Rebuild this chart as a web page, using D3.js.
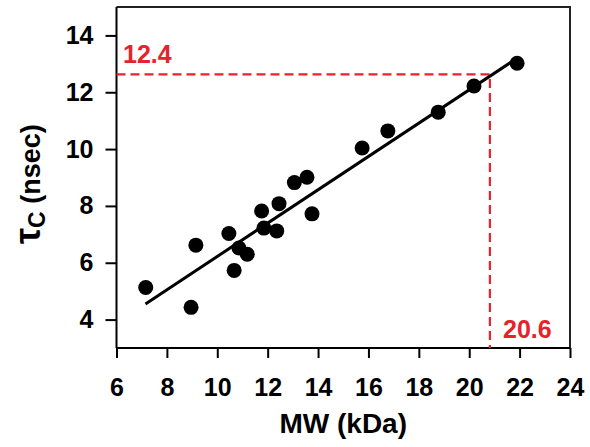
<!DOCTYPE html>
<html>
<head>
<meta charset="utf-8">
<script src="https://cdn.jsdelivr.net/npm/d3@7"></script>
<style>
  body { margin: 0; background: #fff; }
  svg { display: block; font-family: "Liberation Sans", Arial, sans-serif; font-weight: bold; }
</style>
</head>
<body>
<svg id="chart" width="590" height="447"></svg>
<script>
'use strict';

// - data
const mw  = [7.16, 8.96, 9.15, 10.46, 10.67, 10.86, 11.19, 11.76, 11.85, 12.36, 12.45, 13.06, 13.56, 13.76, 15.75, 16.77, 18.77, 20.19, 21.9];
const tau = [5.13, 4.43, 6.62, 7.03, 5.73, 6.52, 6.30, 7.82, 7.22, 7.12, 8.08, 8.82, 9.01, 7.72, 10.04, 10.64, 11.30, 12.22, 13.02];

// fit line end points (MW, tau)
const fitX = [7.15, 21.9];
const fitY = [4.55, 13.2];

// dashed read-off guide and its labels
const guideX = 20.82;
const guideY = 12.63;
const guideLabelX = '20.6';
const guideLabelY = '12.4';

const xTicks = [6, 8, 10, 12, 14, 16, 18, 20, 22, 24];
const yTicks = [4, 6, 8, 10, 12, 14];

const red = '#e6232b';

const svg = d3.select('#chart');

const x = d3.scaleLinear().domain([6, 24]).range([116.5, 570]);
const y = d3.scaleLinear().domain([3, 15]).range([348, 7]);

// frame (top + right)
svg.append('path')
	.attr('d', `M${x(6)},${y(15)}H${x(24)}V${y(3)}`)
	.attr('fill', 'none')
	.attr('stroke', '#222')
	.attr('stroke-width', 2);

// axes
const xAxis = svg.append('g')
	.attr('transform', `translate(0,${y(3)})`)
	.call(d3.axisBottom(x).tickValues(xTicks).tickSize(10).tickSizeOuter(0).tickPadding(20));

const yAxis = svg.append('g')
	.attr('transform', `translate(${x(6)},0)`)
	.call(d3.axisLeft(y).tickValues(yTicks).tickSize(11).tickSizeOuter(0).tickPadding(12));

for (let ax of [xAxis, yAxis])
{
	ax.selectAll('path, line').attr('stroke', '#000').attr('stroke-width', 2);
	ax.selectAll('text')
		.attr('fill', '#000')
		.style('font-size', '25px')
		.style('font-family', '"Liberation Sans", Arial, sans-serif')
		.style('font-weight', 'bold');
}
xAxis.select('.domain').attr('d', `M${x(6)},0H${x(24)}`);
yAxis.select('.domain').attr('d', `M0,${y(3)}V${y(15)}`);

// dashed guide
svg.append('path')
	.attr('d', `M${x(6)},${y(guideY)}H${x(guideX)}V${y(3)}`)
	.attr('fill', 'none')
	.attr('stroke', red)
	.attr('stroke-width', 2.2)
	.attr('stroke-dasharray', '9,5');

svg.append('text')
	.attr('x', 123).attr('y', 63)
	.attr('fill', red)
	.style('font-size', '25px')
	.text(guideLabelY);

svg.append('text')
	.attr('x', 503).attr('y', 338)
	.attr('fill', red)
	.style('font-size', '25px')
	.text(guideLabelX);

// fit line
svg.append('line')
	.attr('x1', x(fitX[0])).attr('y1', y(fitY[0]))
	.attr('x2', x(fitX[1])).attr('y2', y(fitY[1]))
	.attr('stroke', '#000')
	.attr('stroke-width', 3);

// points
svg.append('g')
	.selectAll('circle')
	.data(mw.map((m, i) => [m, tau[i]]))
	.join('circle')
		.attr('cx', d => x(d[0]))
		.attr('cy', d => y(d[1]))
		.attr('r', 7.5)
		.attr('fill', '#000');

// axis titles
svg.append('text')
	.attr('x', (x(6) + x(24)) / 2)
	.attr('y', 433)
	.attr('text-anchor', 'middle')
	.style('font-size', '28px')
	.text('MW (kDa)');

// rotated: text starts at the bottom (tau) and runs upward
const yt = svg.append('text')
	.attr('transform', 'translate(40,244) rotate(-90)')
	.attr('text-anchor', 'start')
	.style('font-size', '27px');
yt.append('tspan').style('font-size', '36px').text('τ');
yt.append('tspan').attr('dy', 5).style('font-size', '23px').text('C');
yt.append('tspan').attr('dy', -5).text(' (nsec)');
</script>
</body>
</html>
